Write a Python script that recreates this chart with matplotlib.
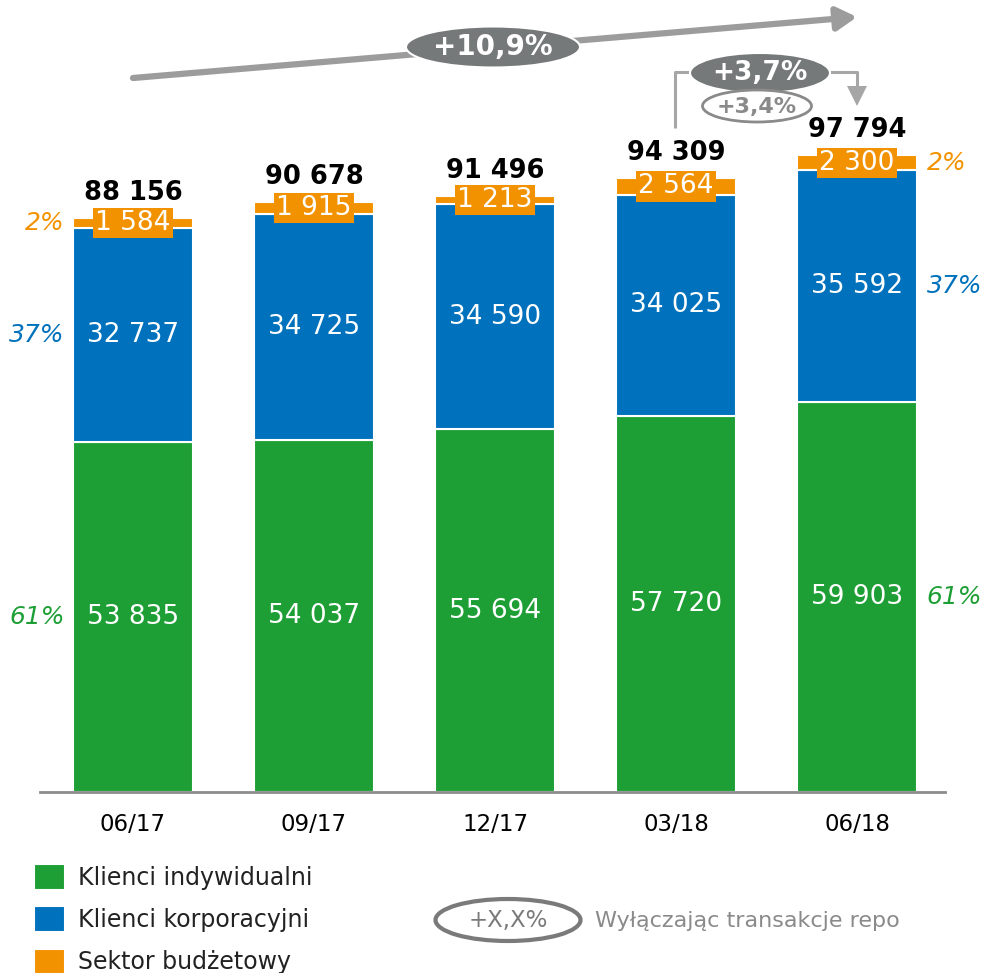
import matplotlib
matplotlib.use("Agg")
import matplotlib.pyplot as plt
from matplotlib.patches import Ellipse
import numpy as np

plt.rcParams['font.family'] = ['DejaVu Sans']

# ---- data ----
categories = ['06/17', '09/17', '12/17', '03/18', '06/18']
indywidualni = [53835, 54037, 55694, 57720, 59903]
korporacyjni = [32737, 34725, 34590, 34025, 35592]
budzetowy = [1584, 1915, 1213, 2564, 2300]
totals = [88156, 90678, 91496, 94309, 97794]
shares_first = ['61%', '37%', '2%']
shares_last = ['61%', '37%', '2%']
series_names = ['Klienci indywidualni', 'Klienci korporacyjni', 'Sektor budżetowy']
growth_total = '+10,9%'
growth_q = '+3,7%'
growth_q_ex_repo = '+3,4%'
legend_note_symbol = '+X,X%'
legend_note_text = 'Wyłączając transakcje repo'

GREEN = '#1E9F35'
BLUE = '#0071BC'
ORANGE = '#F39200'
DARKGRAY = '#767979'
LIGHTGRAY = '#9c9c9c'

W, H = 986, 973
fig = plt.figure(figsize=(W / 100, H / 100), dpi=100)

ax = fig.add_axes([40 / W, 181 / H, 905 / W, 792 / H])
x = np.arange(len(categories))
width = 0.663

def fmt(v):
    return f"{v:,}".replace(',', ' ')

g = np.array(indywidualni)
b = np.array(korporacyjni)
o = np.array(budzetowy)

bars_g = ax.bar(x, g, width, color=GREEN, edgecolor='white', linewidth=1.5, label=series_names[0])
bars_b = ax.bar(x, b, width, bottom=g, color=BLUE, edgecolor='white', linewidth=1.5, label=series_names[1])
bars_o = ax.bar(x, o, width, bottom=g + b, color=ORANGE, edgecolor='white', linewidth=1.5, label=series_names[2])

ax.set_xlim(-0.514, 4.486)
ax.set_ylim(0, 121660)
ax.set_xticks(x)
ax.set_xticklabels(categories, fontsize=16.5)
ax.tick_params(axis='x', length=0, pad=15)
ax.set_yticks([])
for s in ['top', 'right', 'left']:
    ax.spines[s].set_visible(False)
ax.spines['bottom'].set_color('#8c8c8c')
ax.spines['bottom'].set_linewidth(2)

# inner labels
for i in range(len(x)):
    ax.text(x[i], g[i] / 2, fmt(g[i]), ha='center', va='center', color='white', fontsize=19)
    ax.text(x[i], g[i] + b[i] / 2, fmt(b[i]), ha='center', va='center', color='white', fontsize=19)
    ax.text(x[i], g[i] + b[i] + o[i] / 2, fmt(o[i]), ha='center', va='center', color='white', fontsize=19,
            bbox=dict(boxstyle='square,pad=0.08', facecolor=ORANGE, edgecolor='none'), zorder=5)
    ax.annotate(fmt(totals[i]), (x[i], totals[i]), xytext=(0, 18), textcoords='offset points',
                ha='center', va='center', fontsize=18.5, fontweight='bold', color='black')

# share labels
mids_first = [g[0] / 2, g[0] + b[0] / 2, g[0] + b[0] + o[0] / 2]
mids_last = [g[-1] / 2, g[-1] + b[-1] / 2, g[-1] + b[-1] + o[-1] / 2]
cols = [GREEN, BLUE, ORANGE]
for k in range(3):
    ax.annotate(shares_first[k], (x[0] - width / 2, mids_first[k]), xytext=(-6, 0), textcoords='offset points',
                ha='right', va='center', fontsize=18, style='italic', color=cols[k], annotation_clip=False)
    ax.annotate(shares_last[k], (x[-1] + width / 2, mids_last[k]), xytext=(7, 0), textcoords='offset points',
                ha='left', va='center', fontsize=18, style='italic', color=cols[k], annotation_clip=False)

# overlay in pixel coordinates for decorations
ov = fig.add_axes([0, 0, 1, 1], zorder=10)
ov.set_xlim(0, W)
ov.set_ylim(H, 0)
ov.axis('off')
ov.patch.set_alpha(0)

# long growth arrow
ov.annotate('', xy=(857, 17), xytext=(133, 78),
            arrowprops=dict(arrowstyle='-|>,head_length=0.6,head_width=0.35', lw=4.5, color=LIGHTGRAY,
                            mutation_scale=20, shrinkA=0, shrinkB=0))
ov.add_patch(Ellipse((493, 47), 174, 41, facecolor=DARKGRAY, edgecolor='white', lw=1.5, zorder=5))
ov.text(493, 47, growth_total, ha='center', va='center', color='white', fontsize=20, fontweight='bold', zorder=6)

# quarterly bracket
ov.plot([675, 675, 700], [128, 72, 72], color='#a6a6a6', lw=2.2, solid_capstyle='butt', zorder=4)
ov.plot([820, 857, 857], [72, 72, 88], color='#a6a6a6', lw=2.2, solid_capstyle='butt', zorder=4)
ov.annotate('', xy=(857, 106), xytext=(857, 86),
            arrowprops=dict(arrowstyle='-|>,head_length=0.9,head_width=0.45', lw=0, color='#a6a6a6',
                            mutation_scale=16, shrinkA=0, shrinkB=0))
ov.add_patch(Ellipse((760, 73), 140, 40, facecolor=DARKGRAY, edgecolor='white', lw=1.5, zorder=5))
ov.text(760, 73, growth_q, ha='center', va='center', color='white', fontsize=19, fontweight='bold', zorder=6)
ov.add_patch(Ellipse((757, 106), 109, 32, facecolor='white', edgecolor='#8a8a8a', lw=2, zorder=5))
ov.text(757, 107, growth_q_ex_repo, ha='center', va='center', color='#8a8a8a', fontsize=16,
        fontweight='bold', zorder=6)

# legend
fig.legend(handles=[bars_g, bars_b, bars_o], labels=series_names, loc='upper left',
           bbox_to_anchor=(34 / W, 1 - 864 / H), frameon=False, fontsize=17,
           handlelength=1.31, handleheight=1.3, labelspacing=0.7, handletextpad=0.55,
           borderpad=0, borderaxespad=0, labelcolor='#222222')

ov.add_patch(Ellipse((508, 920), 145, 42, facecolor='white', edgecolor='#7a7a7a', lw=3, zorder=5))
ov.text(508, 921, legend_note_symbol, ha='center', va='center', color='#7a7a7a', fontsize=16.5, zorder=6)
ov.text(595, 921, legend_note_text, ha='left', va='center', color='#8a8a8a', fontsize=16, zorder=6)

fig.savefig('out.png', dpi=100)
